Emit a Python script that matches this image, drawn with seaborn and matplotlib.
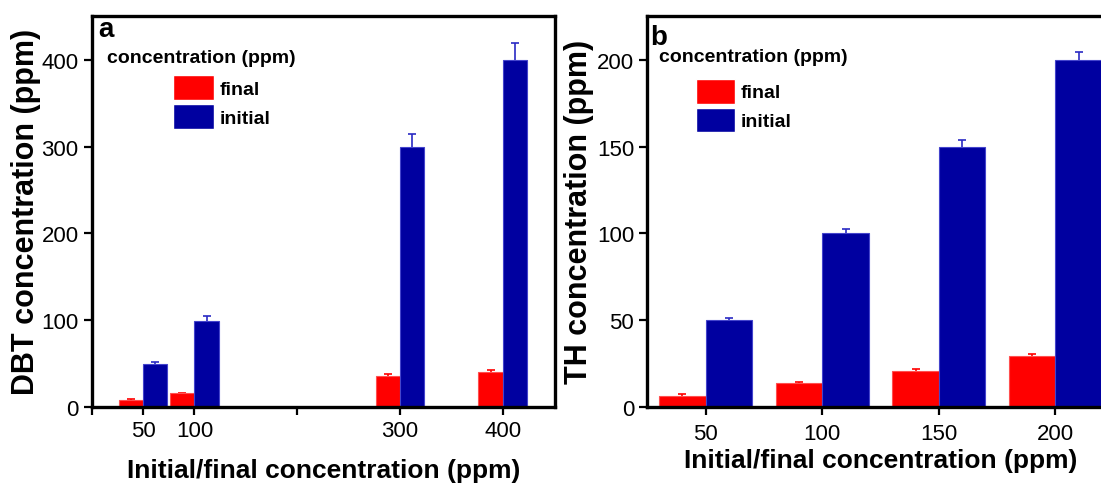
import matplotlib
matplotlib.use("Agg")
import matplotlib.pyplot as plt
import seaborn as sns
import pandas as pd

# ---------------- data ----------------
series_names = ["final", "initial"]

# panel a : DBT
dbt_conc = [50, 100, 300, 400]
dbt_final = [7.7, 15.4, 35.5, 39.6]
dbt_final_err = [1.2, 0.5, 2.5, 2.4]
dbt_initial = [49, 99, 300, 400]
dbt_initial_err = [2.2, 5.5, 14.5, 20.0]
dbt_xticks = [0, 50, 100, 200, 300, 400]
dbt_xticklabels = ["", "50", "100", "", "300", "400"]
dbt_yticks = [0, 100, 200, 300, 400]

# panel b : TH
th_conc = ["50", "100", "150", "200"]
th_final = [6.4, 13.8, 20.4, 29.0]
th_final_err = [0.8, 0.6, 1.2, 1.2]
th_initial = [50, 100, 150, 200]
th_initial_err = [1.0, 2.4, 3.9, 4.6]
th_yticks = [0, 50, 100, 150, 200]

legend_title = "concentration (ppm)"
xlabel = "Initial/final concentration (ppm)"

bar_colors = ["#FF0000", "#0000A0"]
edge_colors = ["#FF5050", "#4444CC"]
err_colors = ["#FF0000", "#2A2AC4"]

# ---------------- style ----------------
sns.set_style("ticks")
plt.rcParams["font.family"] = ["Liberation Sans", "DejaVu Sans"]
plt.rcParams["text.color"] = "black"
plt.rcParams["axes.labelcolor"] = "black"
plt.rcParams["xtick.color"] = "black"
plt.rcParams["ytick.color"] = "black"


def long_df(conc, final, initial):
    return pd.DataFrame({
        "conc": list(conc) + list(conc),
        "value": list(final) + list(initial),
        "type": [series_names[0]] * len(conc) + [series_names[1]] * len(conc),
    })


df_a = long_df(dbt_conc, dbt_final, dbt_initial)
df_b = long_df(th_conc, th_final, th_initial)

fig = plt.figure(figsize=(11.01, 4.85), dpi=100)
ax_a = fig.add_axes([0.0833, 0.1594, 0.4208, 0.8062])
ax_b = fig.add_axes([0.5879, 0.1594, 0.4237, 0.8062])

sns.barplot(data=df_a, x="conc", y="value", hue="type", hue_order=series_names,
            palette=bar_colors, saturation=1, native_scale=True, width=0.94,
            errorbar=None, ax=ax_a)
sns.barplot(data=df_b, x="conc", y="value", hue="type", hue_order=series_names,
            order=th_conc, palette=bar_colors, saturation=1, width=0.8,
            errorbar=None, ax=ax_b)


def style_axes(ax, errs, ylabel, ylim, yticks, panel, title_pos, leg_anchor,
               handlelength, ylabelpad, xlabelpad, xpad):
    bars = list(ax.containers[:2])
    for i, cont in enumerate(bars):
        xs, ys = [], []
        for b in cont:
            b.set_edgecolor(edge_colors[i])
            b.set_linewidth(0.8)
            xs.append(b.get_x() + b.get_width() / 2)
            ys.append(b.get_height())
        ax.errorbar(xs, ys, yerr=errs[i], fmt="none", ecolor=err_colors[i],
                    elinewidth=1.2, capsize=3.2, capthick=1.2, zorder=0.5)

    ax.set_ylim(*ylim)
    ax.set_yticks(yticks)
    ax.set_ylabel(ylabel, fontsize=22, fontweight="bold", labelpad=ylabelpad)
    ax.set_xlabel(xlabel, fontsize=19, fontweight="bold", labelpad=xlabelpad)
    for s in ax.spines.values():
        s.set_visible(True)
        s.set_linewidth(2.4)
        s.set_color("black")
    ax.tick_params(axis="both", direction="out", length=6, width=1.6,
                   labelsize=16, color="black", labelcolor="black")
    ax.tick_params(axis="y", pad=3.5)
    ax.tick_params(axis="x", pad=xpad)

    leg = ax.get_legend()
    handles = leg.legend_handles
    labels = [t.get_text() for t in leg.get_texts()]
    leg.remove()
    ax.legend(handles, labels, loc="upper left", bbox_to_anchor=leg_anchor,
              frameon=False, prop={"weight": "bold", "size": 14},
              handlelength=handlelength, handleheight=1.6, labelspacing=0.2,
              handletextpad=0.3, borderaxespad=0, borderpad=0)
    ax.text(title_pos[0], title_pos[1], legend_title, transform=ax.transAxes,
            fontsize=14, fontweight="bold", va="baseline", ha="left")
    ax.text(panel[1], panel[2], panel[0], transform=ax.transAxes,
            fontsize=20, fontweight="bold", va="baseline", ha="left")


style_axes(ax_a, [dbt_final_err, dbt_initial_err], "DBT concentration (ppm)",
           (0, 451), dbt_yticks, ("a", 0.014, 0.949), (0.033, 0.881),
           (0.175, 0.848), 2.1, 0, 12, 3.5)
ax_a.set_xlim(0, 451)
ax_a.set_xticks(dbt_xticks)
ax_a.set_xticklabels(dbt_xticklabels)

style_axes(ax_b, [th_final_err, th_initial_err], "TH concentration (ppm)",
           (0, 225.5), th_yticks, ("b", 0.007, 0.928), (0.025, 0.885),
           (0.104, 0.839), 2.0, 2, 3, 5.5)
ax_b.set_xlim(-0.5, 3.5)

fig.savefig("out.png", dpi=100)
